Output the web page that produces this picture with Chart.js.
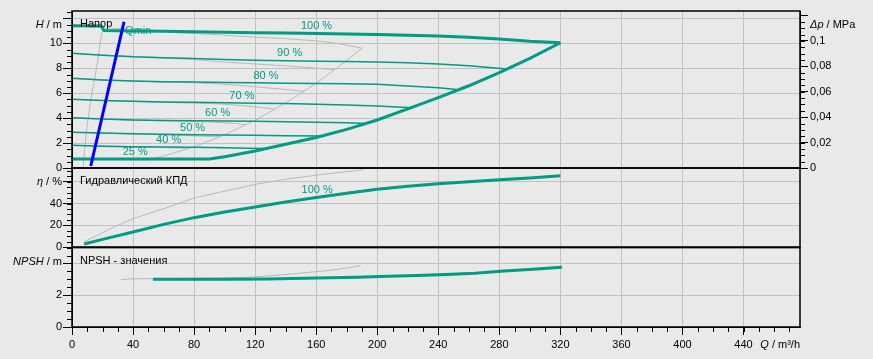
<!DOCTYPE html>
<html>
<head>
<meta charset="utf-8">
<script src="https://cdn.jsdelivr.net/npm/chart.js@4.4.0/dist/chart.umd.min.js"></script>
<style>
  html, body { margin: 0; padding: 0; background: #e9e9e9; }
  #wrap { position: relative; width: 873px; height: 359px; background: #e9e9e9; overflow: hidden; }
  canvas { position: absolute; left: 0; }
</style>
</head>
<body>
<div id="wrap">
  <canvas id="headChart" width="873" height="180" style="top:0px"></canvas>
  <canvas id="effChart" width="873" height="95" style="top:160px"></canvas>
  <canvas id="npshChart" width="873" height="119" style="top:240px"></canvas>
</div>
<script>
// ---- axes ----
const qMax = 477;
const qTicks = [0, 40, 80, 120, 160, 200, 240, 280, 320, 360, 400, 440];
const hMax = 12.6;
const hTicks = [0, 2, 4, 6, 8, 10, 12];
const hLabels = ['0', '2', '4', '6', '8', '10', ''];
const dpMax = 0.1235;
const dpTicks = [0, 0.02, 0.04, 0.06, 0.08, 0.1, 0.12];
const dpLabels = ['0', '0,02', '0,04', '0,06', '0,08', '0,1', ''];
const etaMax = 72.7;
const etaTicks = [0, 20, 40, 60];
const etaLabels = ['0', '20', '40', ''];
const npshMax = 5;
const npshTicks = [0, 2, 4];
const npshLabels = ['0', '2', ''];

// ---- head curves (Q m3/h, H m) ----
const q100 = [0, 19, 21, 40, 60, 80, 100, 120, 140, 160, 180, 200, 220, 240, 260, 280, 300, 320];
const h100 = [11.42, 11.4, 11.03, 11.0, 10.97, 10.94, 10.9, 10.86, 10.83, 10.79, 10.76, 10.72, 10.66, 10.59, 10.5, 10.35, 10.17, 10.05];
const qLimit = [0, 20, 40, 60, 80, 90, 100, 120, 140, 160, 180, 200, 220, 240, 260, 280, 300, 320];
const hLimit = [0.72, 0.72, 0.72, 0.72, 0.72, 0.73, 0.9, 1.36, 1.9, 2.45, 3.1, 3.85, 4.75, 5.65, 6.6, 7.65, 8.8, 10.05];
const q90 = [0, 20, 40, 60, 80, 100, 120, 140, 160, 180, 200, 220, 240, 260, 285];
const h90 = [9.2, 9.05, 8.92, 8.85, 8.78, 8.7, 8.65, 8.6, 8.57, 8.54, 8.5, 8.44, 8.35, 8.2, 7.95];
const q80 = [0, 20, 40, 60, 80, 100, 120, 140, 160, 180, 200, 220, 240, 252];
const h80 = [7.2, 7.07, 6.98, 6.93, 6.9, 6.87, 6.84, 6.81, 6.79, 6.76, 6.72, 6.58, 6.44, 6.3];
const q70 = [0, 20, 40, 60, 80, 100, 120, 140, 160, 180, 200, 223];
const h70 = [5.51, 5.42, 5.35, 5.3, 5.27, 5.24, 5.2, 5.17, 5.12, 5.05, 4.97, 4.84];
const q60 = [0, 20, 40, 60, 80, 100, 120, 140, 160, 180, 193];
const h60 = [4.04, 3.93, 3.86, 3.82, 3.79, 3.77, 3.75, 3.72, 3.68, 3.63, 3.58];
const q50 = [0, 20, 40, 60, 80, 100, 120, 140, 163];
const h50 = [2.87, 2.8, 2.74, 2.7, 2.66, 2.64, 2.62, 2.59, 2.56];
const q40 = [0, 20, 40, 60, 80, 100, 115, 128];
const h40 = [1.82, 1.75, 1.71, 1.69, 1.67, 1.62, 1.58, 1.56];
const qQmin = [12.3, 34.1];
const hQmin = [0.16, 11.74];

// comparison pump (grey)
const gq100 = [0, 20, 45, 70, 95, 120, 140, 160, 175, 190];
const gh100 = [11.42, 11.25, 11.1, 10.85, 10.7, 10.5, 10.38, 10.2, 9.98, 9.61];
const gq90 = [0, 20, 40, 60, 80, 100, 120, 140, 156, 172];
const gh90 = [9.2, 9.07, 8.95, 8.83, 8.7, 8.5, 8.35, 8.2, 8.05, 7.88];
const gq80 = [0, 20, 40, 60, 80, 100, 120, 140, 152];
const gh80 = [7.2, 7.07, 6.97, 6.9, 6.85, 6.72, 6.52, 6.3, 6.15];
const gq70 = [0, 20, 40, 60, 80, 97, 110, 123, 133];
const gh70 = [5.51, 5.42, 5.34, 5.27, 5.2, 5.14, 5.02, 4.87, 4.72];
const gq60 = [0, 20, 40, 64, 90, 108, 114];
const gh60 = [4.04, 3.93, 3.85, 3.77, 3.7, 3.57, 3.47];
const gq50 = [0, 20, 40, 60, 80, 97];
const gh50 = [2.87, 2.8, 2.73, 2.66, 2.58, 2.5];
const gq40 = [0, 20, 40, 60, 77];
const gh40 = [1.82, 1.75, 1.7, 1.65, 1.58];
const gq25 = [0, 20, 49];
const gh25 = [0.72, 0.7, 0.64];
const gqSys = [49, 60, 80, 100, 120, 140, 160, 175, 190];
const ghSys = [0.64, 0.96, 1.7, 2.66, 3.83, 5.22, 6.81, 8.15, 9.61];
const gqQmin = [7.4, 9.2, 12.3, 16.2, 19.5, 20.5];
const ghQmin = [0.1, 2.78, 5.46, 8.13, 10.81, 11.21];

const speedLabels = ['100 %', '90 %', '80 %', '70 %', '60 %', '50 %', '40 %', '25 %'];

// ---- efficiency (Q, %) ----
const qEta = [8, 20, 40, 60, 80, 100, 120, 140, 160, 180, 200, 220, 240, 260, 280, 300, 320];
const eta = [2.8, 7.0, 13.8, 20.8, 27.0, 32.2, 36.9, 41.4, 45.6, 49.5, 53.2, 55.9, 58.1, 60.1, 61.9, 63.4, 65.5];
const gqEta = [8, 28, 41, 61, 81, 104, 121, 142, 162, 191];
const gEta = [4.9, 18.7, 26.5, 35.7, 45.5, 52.6, 57.9, 62.8, 66.5, 71.1];

// ---- NPSH (Q, m) ----
const qNpsh = [53, 80, 100, 128, 160, 187, 207, 226, 245, 264, 283, 302, 321];
const npsh = [3.0, 3.0, 3.01, 3.03, 3.08, 3.13, 3.19, 3.25, 3.31, 3.39, 3.52, 3.64, 3.77];
const gqNpsh = [32, 38, 60, 90, 110, 125, 141, 155, 169, 182, 189];
const gNpsh = [2.98, 3.03, 3.05, 3.08, 3.11, 3.19, 3.31, 3.44, 3.56, 3.75, 3.86];

// ---- styles ----
const TEAL = '#009b84';
const GREY = '#b9b9b9';
const GRID = '#c2c2c2';
const FONT = '"Liberation Sans", Arial, sans-serif';
const LEFT_W = 72, RIGHT_W = 73;

Chart.defaults.font.family = FONT;
Chart.defaults.font.size = 11;
Chart.defaults.color = '#000';

function series(qs, vs, color, width) {
  return {
    data: qs.map((q, i) => ({ x: q, y: vs[i] })),
    borderColor: color,
    borderWidth: width,
    pointRadius: 0,
    fill: false,
    tension: 0
  };
}

function setTicks(list) {
  return scale => { scale.ticks = list.map(v => ({ value: v })); };
}

function xAxis(showLabels) {
  return {
    type: 'linear', min: 0, max: qMax,
    afterBuildTicks: setTicks(qTicks),
    ticks: { display: showLabels, autoSkip: false, maxRotation: 0, padding: 3 },
    grid: { color: GRID, tickColor: '#000', tickLength: 8, drawTicks: showLabels },
    border: { display: showLabels, color: '#000' },
    afterFit: s => { s.height = showLabels ? 32 : 0; }
  };
}

function leftAxis(max, list, labels) {
  return {
    type: 'linear', position: 'left', min: 0, max: max,
    afterBuildTicks: setTicks(list),
    ticks: { autoSkip: false, padding: 1, callback: (v, i) => labels[i] },
    grid: { color: GRID, tickColor: '#000', tickLength: 9 },
    border: { color: '#000' },
    afterFit: s => { s.width = LEFT_W; }
  };
}

function drawUnit(ctx, x, y, italic, rest, align) {
  ctx.font = 'italic 11px ' + FONT;
  const w1 = ctx.measureText(italic).width;
  ctx.font = '11px ' + FONT;
  const w2 = ctx.measureText(rest).width;
  const start = align === 'right' ? x - w1 - w2 : x;
  ctx.textAlign = 'left';
  ctx.font = 'italic 11px ' + FONT;
  ctx.fillText(italic, start, y);
  ctx.font = '11px ' + FONT;
  ctx.fillText(rest, start + w1, y);
}

// frame, minor ticks and texts for one panel
function decor(cfg) {
  return {
    id: 'decor',
    afterDraw(chart) {
      const ctx = chart.ctx, a = chart.chartArea;
      ctx.save();
      ctx.strokeStyle = '#000';
      ctx.lineWidth = 1;
      (cfg.minor || []).forEach(m => {
        const s = chart.scales[m.axis];
        const n = Math.floor((s.max - s.min) / m.step + 1e-6);
        ctx.beginPath();
        for (let i = 0; i <= n; i++) {
          const p = Math.round(s.getPixelForValue(s.min + i * m.step)) + 0.5;
          if (m.side === 'left') { ctx.moveTo(a.left - 5, p); ctx.lineTo(a.left, p); }
          if (m.side === 'right') { ctx.moveTo(a.right, p); ctx.lineTo(a.right + 5, p); }
          if (m.side === 'bottom') { ctx.moveTo(p, a.bottom); ctx.lineTo(p, a.bottom + 5); }
        }
        ctx.stroke();
      });
      ctx.lineWidth = 1.5;
      ctx.strokeRect(a.left, a.top, a.right - a.left, a.bottom - a.top);

      ctx.textBaseline = 'middle';
      ctx.fillStyle = '#000';
      ctx.font = '11px ' + FONT;
      ctx.textAlign = 'left';
      ctx.fillText(cfg.title, a.left + 8, a.top + 13);
      drawUnit(ctx, a.left - 10, a.top + 14, cfg.unit[0], cfg.unit[1], 'right');
      if (cfg.rightUnit) drawUnit(ctx, a.right + 10, a.top + 14, cfg.rightUnit[0], cfg.rightUnit[1], 'left');
      if (cfg.xUnit) drawUnit(ctx, a.right, a.bottom + 18, cfg.xUnit[0], cfg.xUnit[1], 'right');

      ctx.fillStyle = TEAL;
      ctx.font = '11px ' + FONT;
      ctx.textAlign = 'left';
      const xs = chart.scales.x, ys = chart.scales.y;
      (cfg.notes || []).forEach(t => {
        ctx.fillText(t.text, xs.getPixelForValue(t.q), ys.getPixelForValue(t.v));
      });
      ctx.restore();
    }
  };
}

const common = {
  responsive: false,
  animation: false,
  devicePixelRatio: 1,
  plugins: { legend: { display: false }, tooltip: { enabled: false } }
};

// ---- head panel ----
new Chart(document.getElementById('headChart'), {
  type: 'line',
  data: {
    datasets: [
      series(qQmin, hQmin, '#0000ff', 3),
      series(q100, h100, TEAL, 3),
      series(qLimit, hLimit, TEAL, 3),
      series(q90, h90, TEAL, 1.5),
      series(q80, h80, TEAL, 1.5),
      series(q70, h70, TEAL, 1.5),
      series(q60, h60, TEAL, 1.5),
      series(q50, h50, TEAL, 1.5),
      series(q40, h40, TEAL, 1.5),
      series(gq100, gh100, GREY, 1),
      series(gq90, gh90, GREY, 1),
      series(gq80, gh80, GREY, 1),
      series(gq70, gh70, GREY, 1),
      series(gq60, gh60, GREY, 1),
      series(gq50, gh50, GREY, 1),
      series(gq40, gh40, GREY, 1),
      series(gq25, gh25, GREY, 1),
      series(gqSys, ghSys, GREY, 1),
      series(gqQmin, ghQmin, GREY, 1)
    ]
  },
  options: {
    ...common,
    layout: { padding: { top: 11, bottom: 12, left: 0, right: 0 } },
    scales: {
      x: xAxis(false),
      y: leftAxis(hMax, hTicks, hLabels),
      dp: {
        type: 'linear', position: 'right', min: 0, max: dpMax,
        afterBuildTicks: setTicks(dpTicks),
        ticks: { autoSkip: false, padding: 2, callback: (v, i) => dpLabels[i] },
        grid: { drawOnChartArea: false, tickColor: '#000', tickLength: 8 },
        border: { color: '#000' },
        afterFit: s => { s.width = RIGHT_W; }
      }
    }
  },
  plugins: [decor({
    title: 'Напор',
    unit: ['H', ' / m'],
    rightUnit: ['Δp', ' / MPa'],
    minor: [{ axis: 'y', step: 0.5, side: 'left' }, { axis: 'dp', step: 0.005, side: 'right' }],
    notes: [
      { text: speedLabels[0], q: 150, v: 11.4 },
      { text: speedLabels[1], q: 134.4, v: 9.23 },
      { text: speedLabels[2], q: 118.9, v: 7.38 },
      { text: speedLabels[3], q: 103.1, v: 5.78 },
      { text: speedLabels[4], q: 87.2, v: 4.39 },
      { text: speedLabels[5], q: 70.8, v: 3.19 },
      { text: speedLabels[6], q: 55.1, v: 2.25 },
      { text: speedLabels[7], q: 33.2, v: 1.31 },
      { text: 'Qmin', q: 34.8, v: 11.0 }
    ]
  })]
});

// ---- efficiency panel ----
new Chart(document.getElementById('effChart'), {
  type: 'line',
  data: {
    datasets: [
      series(qEta, eta, TEAL, 3),
      series(gqEta, gEta, GREY, 1)
    ]
  },
  options: {
    ...common,
    layout: { padding: { top: 8, bottom: 8, left: 0, right: RIGHT_W } },
    scales: { x: xAxis(false), y: leftAxis(etaMax, etaTicks, etaLabels) }
  },
  plugins: [decor({
    title: 'Гидравлический КПД',
    unit: ['η', ' / %'],
    minor: [{ axis: 'y', step: 5, side: 'left' }],
    notes: [{ text: '100 %', q: 150.4, v: 52.5 }]
  })]
});

// ---- NPSH panel ----
new Chart(document.getElementById('npshChart'), {
  type: 'line',
  data: {
    datasets: [
      series(qNpsh, npsh, TEAL, 3),
      series(gqNpsh, gNpsh, GREY, 1)
    ]
  },
  options: {
    ...common,
    layout: { padding: { top: 7, bottom: 0, left: 0, right: RIGHT_W } },
    scales: { x: xAxis(true), y: leftAxis(npshMax, npshTicks, npshLabels) }
  },
  plugins: [decor({
    title: 'NPSH - значения',
    unit: ['NPSH', ' / m'],
    xUnit: ['Q', ' / m³/h'],
    minor: [{ axis: 'y', step: 0.5, side: 'left' }, { axis: 'x', step: 10, side: 'bottom' }]
  })]
});
</script>
</body>
</html>
